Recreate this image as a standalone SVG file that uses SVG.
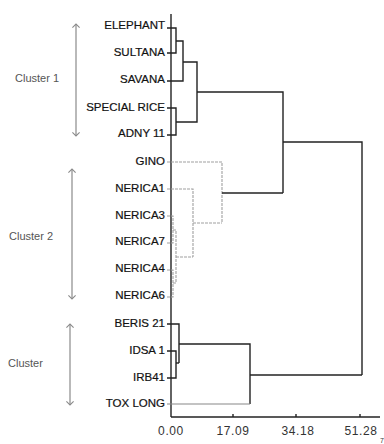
<svg xmlns="http://www.w3.org/2000/svg" width="384" height="444" viewBox="0 0 384 444">
<defs>
<marker id="ah" viewBox="0 0 10 10" refX="5" refY="5" markerWidth="9" markerHeight="9" orient="auto-start-reverse" markerUnits="userSpaceOnUse">
<path d="M1,1 L5,5 L1,9" fill="none" stroke="#8a8a8a" stroke-width="1.2"/>
</marker>
<style>
.leaf{font-family:"Liberation Sans",Arial,sans-serif;font-size:11.5px;fill:#111;text-anchor:end;stroke:#111;stroke-width:0.2}
.cl{font-family:"Liberation Sans",Arial,sans-serif;font-size:11px;fill:#555}
.tk{font-family:"Liberation Sans",Arial,sans-serif;font-size:12px;fill:#333;text-anchor:middle;letter-spacing:0.6px}
.dk{fill:none;stroke:#222;stroke-width:1.4}
.gr{fill:none;stroke:#a0a0a0;stroke-width:1.1;stroke-dasharray:3 1}
.ax{fill:none;stroke:#222;stroke-width:1.4}
.arr{stroke:#8a8a8a;stroke-width:1.2;marker-start:url(#ah);marker-end:url(#ah)}
</style>
</defs>
<rect width="384" height="444" fill="#fff"/>
<g id="axes">
<line class="ax" x1="171" y1="14" x2="171" y2="417"/>
<line class="ax" x1="171" y1="417" x2="380" y2="417"/>
<line class="ax" x1="233" y1="417" x2="233" y2="414"/>
<line class="ax" x1="296" y1="417" x2="296" y2="414"/>
<line class="ax" x1="360" y1="417" x2="360" y2="414"/>
<text class="tk" x="171" y="435">0.00</text>
<text class="tk" x="233" y="435">17.09</text>
<text class="tk" x="298" y="435">34.18</text>
<text class="tk" x="361" y="435">51.28</text>
<text x="380" y="443" style="font-family:'Liberation Sans',Arial,sans-serif;font-size:7px;fill:#333">7</text>
</g>
<g id="labels">
<text class="leaf" x="165" y="29">ELEPHANT</text>
<text class="leaf" x="165" y="56">SULTANA</text>
<text class="leaf" x="165" y="83">SAVANA</text>
<text class="leaf" x="165" y="111">SPECIAL RICE</text>
<text class="leaf" x="165" y="137">ADNY 11</text>
<text class="leaf" x="165" y="165">GINO</text>
<text class="leaf" x="165" y="192">NERICA1</text>
<text class="leaf" x="165" y="219">NERICA3</text>
<text class="leaf" x="165" y="245">NERICA7</text>
<text class="leaf" x="165" y="272">NERICA4</text>
<text class="leaf" x="165" y="299">NERICA6</text>
<text class="leaf" x="165" y="327">BERIS 21</text>
<text class="leaf" x="165" y="354">IDSA 1</text>
<text class="leaf" x="165" y="381">IRB41</text>
<text class="leaf" x="165" y="407">TOX LONG</text>
</g>
<g id="cluster1">
<line class="arr" x1="76" y1="24" x2="76" y2="136"/>
<text class="cl" x="15" y="82">Cluster 1</text>
</g>
<g id="cluster2">
<line class="arr" x1="72" y1="169" x2="72" y2="299"/>
<text class="cl" x="9" y="240">Cluster 2</text>
</g>
<g id="cluster3">
<line class="arr" x1="70" y1="324" x2="70" y2="405"/>
<text class="cl" x="8" y="367">Cluster</text>
</g>
<g id="connectors">
<path class="dk" d="M167,28 H176 V53 H167"/>
<path class="dk" d="M176,41 H183 V81 H167"/>
<path class="dk" d="M167,108 H176 V135 H167"/>
<path class="dk" d="M183,62 H197 V122 H176"/>
<path class="dk" d="M197,92 H283 V193"/>
<path class="gr" d="M167,162 H222 V223"/>
<path class="gr" d="M167,189 H193 V257"/>
<path class="gr" d="M167,216 H173 V243 H167"/>
<path class="gr" d="M167,270 H173 V297 H167"/>
<path class="gr" d="M173,230 H176 V283 H173"/>
<path class="gr" d="M176,257 H193"/>
<path class="gr" d="M193,223 H222"/>
<path class="dk" d="M222,193 H283"/>
<path class="dk" d="M283,142 H362 V375"/>
<path class="dk" d="M167,324 H179 V363"/>
<path class="dk" d="M167,351 H176 V378 H167"/>
<path class="dk" d="M176,363 H179"/>
<path class="dk" d="M179,344 H250 V404"/>
<path class="dk" d="M167,404 H250" style="stroke:#888;stroke-width:1.1"/>
<path class="dk" d="M250,375 H362"/>
</g>
</svg>
